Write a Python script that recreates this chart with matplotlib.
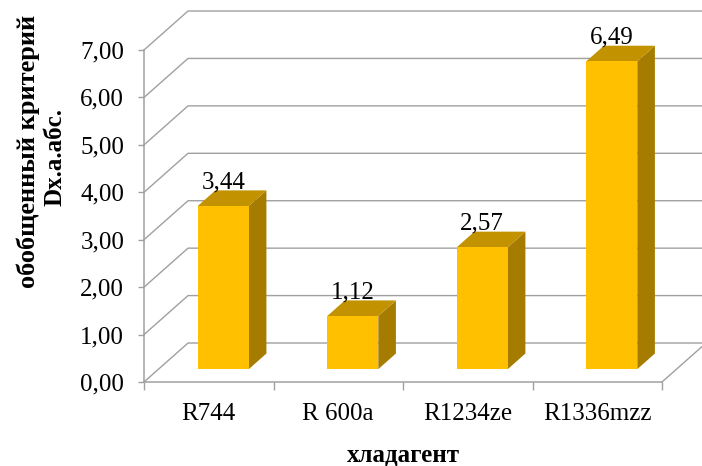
import matplotlib.pyplot as plt
from matplotlib.patches import Polygon
from matplotlib.ticker import FixedLocator, NullFormatter

plt.rcParams['font.family'] = ['Liberation Serif', 'DejaVu Serif']

# refrigerants and the generalized criterion values
refrigerants = ['R744', 'R 600a', 'R1234ze', 'R1336mzz']
criterion = [3.44, 1.12, 2.57, 6.49]
value_labels = ['3,44', '1,12', '2,57', '6,49']
y_ticks = [0, 1, 2, 3, 4, 5, 6, 7]
y_tick_labels = ['0,00', '1,00', '2,00', '3,00', '4,00', '5,00', '6,00', '7,00']

# oblique projection of the depth axis (in data units)
DX, DY = 0.34, 0.822
BAR_FRONT = 0.33      # depth of bar front face
BAR_DEPTH = 0.40      # depth of the bar itself
BAR_W = 0.394

FACE = '#FFC000'
TOP = '#C29200'
SIDE = '#A67C00'
GRID = '#A0A0A0'
FS = 18

W, H = 702, 466
fig = plt.figure(figsize=(W / 100, H / 100), dpi=100)
ax = fig.add_axes([144 / W, (H - 382) / H, (662 - 144) / W, (382 - 50) / H])
ax.set_xlim(0, len(refrigerants))
ax.set_ylim(0, 7)


def proj(x, y, depth):
    return (x + DX * depth, y + DY * depth)


# side wall and back wall gridlines
for v in y_ticks:
    ax.plot([0, DX, len(refrigerants) + DX], [v, v + DY, v + DY],
            color=GRID, lw=1.0, clip_on=False, zorder=1)
# right edge of the floor
ax.plot([len(refrigerants), len(refrigerants) + DX], [0, DY],
        color=GRID, lw=1.0, clip_on=False, zorder=1)

# 3d columns
for i, val in enumerate(criterion):
    x0 = i + 0.5 - BAR_W / 2
    x1 = i + 0.5 + BAR_W / 2
    f0, f1 = BAR_FRONT, BAR_FRONT + BAR_DEPTH
    front = [proj(x0, 0, f0), proj(x1, 0, f0), proj(x1, val, f0), proj(x0, val, f0)]
    top = [proj(x0, val, f0), proj(x1, val, f0), proj(x1, val, f1), proj(x0, val, f1)]
    side = [proj(x1, 0, f0), proj(x1, 0, f1), proj(x1, val, f1), proj(x1, val, f0)]
    for pts, col in ((side, SIDE), (top, TOP), (front, FACE)):
        ax.add_patch(Polygon(pts, closed=True, facecolor=col, edgecolor='none',
                             clip_on=False, zorder=3))
    lx, ly = proj(i + 0.5, val, f1)
    ax.annotate(value_labels[i], (i + 0.5 + DX * f0, ly), xytext=(0, 8),
                textcoords='offset pixels', ha='center', va='center',
                fontsize=FS, zorder=5, annotation_clip=False)

for s in ('top', 'right'):
    ax.spines[s].set_visible(False)
for s in ('left', 'bottom'):
    ax.spines[s].set_color(GRID)
    ax.spines[s].set_linewidth(1.1)
    ax.spines[s].set_zorder(2)

ax.set_yticks(y_ticks)
ax.set_yticklabels(y_tick_labels, fontsize=FS)
ax.tick_params(axis='y', length=4.3, width=1.0, color=GRID, pad=10)

ax.xaxis.set_major_locator(FixedLocator(range(len(refrigerants) + 1)))
ax.xaxis.set_major_formatter(NullFormatter())
ax.set_xticks([i + 0.5 for i in range(len(refrigerants))], minor=True)
ax.set_xticklabels(refrigerants, minor=True, fontsize=FS)
ax.tick_params(axis='x', which='minor', length=0, pad=15)
ax.tick_params(axis='x', which='major', length=5.8, width=1.0, color=GRID)
ax.patch.set_alpha(0)

fig.text(403 / W, 1 - 461 / H, 'хладагент', ha='center', va='baseline',
         fontsize=FS, fontweight='bold')
fig.text(35 / W, 1 - 151 / H, 'обобщенный критерий', rotation=90,
         rotation_mode='anchor', ha='center', va='baseline',
         fontsize=19, fontweight='bold')
fig.text(61 / W, 1 - 157 / H, 'Dx.a.абс.', rotation=90,
         rotation_mode='anchor', ha='center', va='baseline',
         fontsize=18, fontweight='bold')

fig.savefig('out.png', dpi=100)
